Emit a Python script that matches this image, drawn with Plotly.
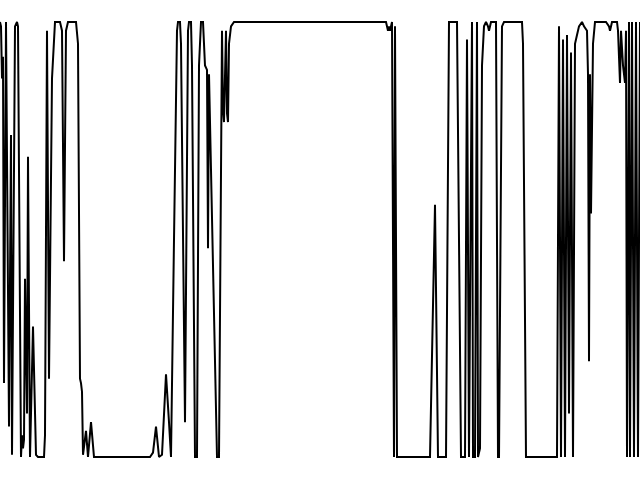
import plotly.graph_objects as go

# time steps and signal values (0..1)
t = [0, 1, 2, 3, 4, 6, 9, 11, 12, 15, 17, 18, 21, 22, 23, 24, 25, 27, 28, 30, 33, 35, 36, 38, 44, 45, 47, 49, 52, 55, 60, 62, 64, 66, 68, 76, 78, 80, 81, 82, 83, 86, 88, 91, 94,
     150, 153, 156, 159, 162, 166, 169, 171, 174, 177, 178, 180, 181, 185, 188, 189, 191, 192, 195, 197, 199, 201, 203, 205, 207, 208, 209, 213, 217, 219,
     221, 222, 223, 224, 226, 227, 228, 229, 231, 234, 386, 388, 389, 390, 392, 393, 394, 395, 396, 397, 430, 435, 438, 446, 449, 457, 461, 465, 467, 469,
     472, 473, 475, 477, 478, 480, 482, 484, 486, 488, 489, 491, 496, 498, 499, 502, 504, 522, 523, 526, 557, 559, 561, 563, 565, 567, 569, 571, 573, 575,
     577, 579, 582, 584, 587, 588, 589, 590, 591, 593, 595, 606, 609, 610, 612, 617, 618, 620, 621, 623, 625, 626, 627, 629, 630, 632, 634, 636, 638, 640]
v = [1.0, 0.99, 0.87, 0.92, 0.17, 1.0, 0.07, 0.74, 0.005, 0.99, 1.0, 0.99, 0.0, 0.05, 0.02, 0.04, 0.41, 0.10, 0.69, 0.0, 0.30, 0.10, 0.005, 0.0, 0.0, 0.05, 0.98, 0.18, 0.87, 1.0, 1.0, 0.98, 0.45, 0.98, 1.0, 1.0, 0.95, 0.18, 0.17, 0.15, 0.005, 0.06, 0.0, 0.08, 0.0,
     0.0, 0.01, 0.07, 0.0, 0.005, 0.19, 0.08, 0.0, 0.5, 0.98, 1.0, 1.0, 0.95, 0.08, 0.98, 1.0, 1.0, 0.9, 0.0, 0.0, 0.9, 1.0, 1.0, 0.9, 0.89, 0.48, 0.88, 0.45, 0.0, 0.0,
     0.6, 0.98, 0.8, 0.77, 0.98, 0.79, 0.77, 0.95, 0.99, 1.0, 1.0, 0.98, 0.99, 0.98, 1.0, 0.5, 0.0, 0.99, 0.5, 0.0, 0.0, 0.58, 0.0, 0.0, 1.0, 1.0, 0.0, 0.0, 0.96, 0.0,
     1.0, 0.0, 0.0, 1.0, 0.0, 0.02, 0.9, 0.99, 1.0, 0.99, 0.98, 1.0, 1.0, 0.0, 0.0, 0.99, 1.0, 1.0, 0.95, 0.0, 0.0, 0.99, 0.0, 0.96, 0.0, 0.97, 0.10, 0.93, 0.0, 0.95,
     0.97, 0.99, 1.0, 0.99, 0.98, 0.88, 0.22, 0.88, 0.56, 0.95, 1.0, 1.0, 0.99, 0.98, 1.0, 1.0, 0.98, 0.86, 0.98, 0.9, 0.86, 0.98, 0.0, 1.0, 0.0, 1.0, 0.0, 1.0, 0.0, 1.0]

fig = go.Figure(go.Scatter(x=t, y=v, mode="lines",
                           line=dict(color="black", width=2)))
fig.update_layout(
    width=640, height=480,
    margin=dict(l=0, r=0, t=20, b=21),
    paper_bgcolor="white", plot_bgcolor="white",
    showlegend=False,
    xaxis=dict(range=[0, 640], visible=False),
    yaxis=dict(range=[-0.0046, 1.0046], visible=False),
)
fig.write_html("out.html")
